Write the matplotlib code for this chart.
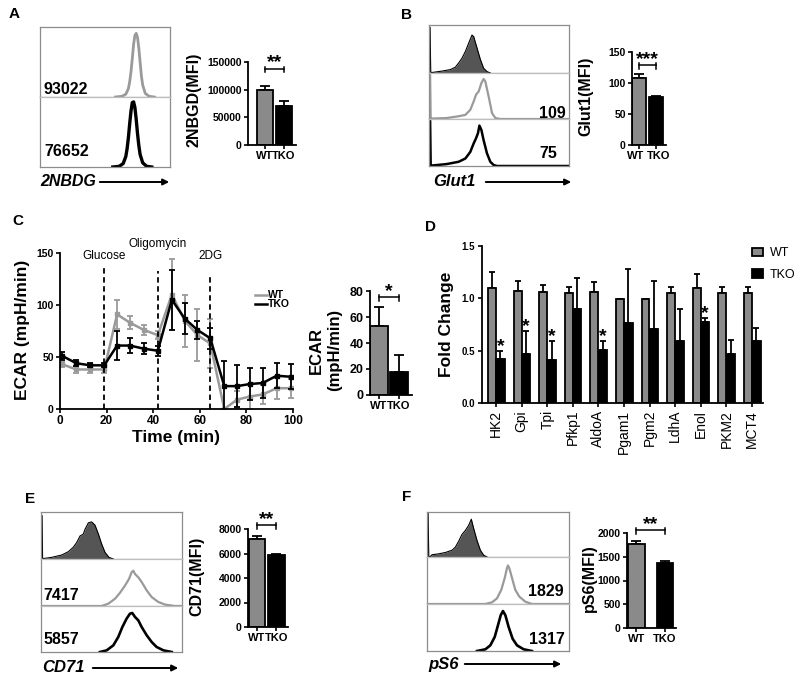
import matplotlib
matplotlib.use('Agg')
import matplotlib.pyplot as plt
from matplotlib.lines import Line2D
from matplotlib.patches import FancyArrowPatch

plt.rcParams['font.family'] = ['Liberation Sans', 'DejaVu Sans']

# ---------------- data ----------------
groups = ['WT', 'TKO']

# Panel A
a_hist_labels = ['93022', '76652']
hA_wt_x = [0.58, 0.63, 0.66, 0.68, 0.69, 0.70, 0.71, 0.72, 0.73, 0.74, 0.75, 0.76, 0.77, 0.78, 0.79, 0.81, 0.84, 0.88]
hA_wt_y = [0, 0.01, 0.04, 0.12, 0.22, 0.36, 0.55, 0.75, 0.88, 0.91, 0.85, 0.70, 0.50, 0.30, 0.17, 0.05, 0.01, 0]
hA_tko_x = [0.56, 0.61, 0.64, 0.66, 0.67, 0.68, 0.69, 0.70, 0.71, 0.72, 0.73, 0.74, 0.75, 0.76, 0.77, 0.79, 0.82, 0.86]
hA_tko_y = [0, 0.01, 0.05, 0.15, 0.26, 0.42, 0.62, 0.80, 0.92, 0.93, 0.85, 0.68, 0.48, 0.31, 0.18, 0.06, 0.01, 0]
a_vals = [100000, 71000]
a_errs = [7000, 9000]

# Panel B
b_hist_labels = ['109', '75']
hB_iso_x = [0.008, 0.012, 0.02, 0.093, 0.152, 0.188, 0.212, 0.236, 0.26, 0.283, 0.307, 0.319, 0.343, 0.367, 0.39, 0.414, 0.438]
hB_iso_y = [0.95, 0.02, 0.01, 0.04, 0.07, 0.12, 0.21, 0.31, 0.45, 0.62, 0.79, 0.76, 0.52, 0.28, 0.10, 0.03, 0]
hB_wt_x = [0.008, 0.012, 0.02, 0.124, 0.212, 0.26, 0.295, 0.319, 0.336, 0.355, 0.374, 0.39, 0.402, 0.426, 0.45, 0.474, 0.51, 1.0]
hB_wt_y = [0.95, 0.02, 0.01, 0.02, 0.06, 0.09, 0.20, 0.38, 0.53, 0.60, 0.78, 0.87, 0.82, 0.49, 0.13, 0.02, 0, 0]
hB_tko_x = [0.008, 0.012, 0.02, 0.124, 0.212, 0.26, 0.295, 0.319, 0.336, 0.35, 0.36, 0.374, 0.39, 0.414, 0.438, 0.462, 0.486, 1.0]
hB_tko_y = [0.95, 0.02, 0.01, 0.04, 0.09, 0.16, 0.30, 0.48, 0.59, 0.70, 0.86, 0.77, 0.55, 0.27, 0.09, 0.02, 0, 0]
b_vals = [108, 77]
b_errs = [6, 2]

# Panel C (Seahorse ECAR)
c_time = [1, 7, 13, 19, 24.5, 30, 36, 42, 48, 53.5, 59, 64.5, 70.5, 76, 81.5, 87, 93, 99]
c_wt = [43, 38, 38, 38, 91, 83, 76, 71, 110, 85, 71, 63, 0, 9, 12, 14, 20, 20]
c_wt_err = [3, 3, 3, 3, 14, 6, 5, 4, 34, 25, 25, 24, 0, 8, 12, 9, 10, 9]
c_tko = [51, 44, 42, 42, 61, 61, 58, 56, 105, 87, 76, 68, 22, 22, 24, 25, 32, 31]
c_tko_err = [4, 3, 2, 2, 14, 7, 5, 5, 29, 15, 9, 10, 24, 20, 15, 14, 12, 12]
c_inject_times = [19, 42, 64.5]
c_inject_names = ['Glucose', 'Oligomycin', '2DG']
c_bar_vals = [53, 18]
c_bar_errs = [15, 13]

# Panel D (qPCR fold change)
d_genes = ['HK2', 'Gpi', 'Tpi', 'Pfkp1', 'AldoA', 'Pgam1', 'Pgm2', 'LdhA', 'Enol', 'PKM2', 'MCT4']
d_wt = [1.10, 1.07, 1.06, 1.05, 1.06, 0.99, 0.99, 1.05, 1.10, 1.05, 1.05]
d_wt_err = [0.15, 0.10, 0.07, 0.06, 0.10, 0.0, 0.0, 0.06, 0.13, 0.06, 0.06]
d_tko = [0.42, 0.47, 0.41, 0.90, 0.51, 0.76, 0.71, 0.59, 0.77, 0.47, 0.59]
d_tko_err = [0.08, 0.22, 0.18, 0.29, 0.08, 0.52, 0.46, 0.31, 0.04, 0.13, 0.13]
d_signif = [True, True, True, False, True, False, False, False, True, False, False]

# Panel E
e_hist_labels = ['7417', '5857']
hE_iso_x = [0.008, 0.011, 0.017, 0.076, 0.147, 0.194, 0.229, 0.253, 0.277, 0.30, 0.312, 0.336, 0.359, 0.383, 0.407, 0.43, 0.454, 0.482, 0.513]
hE_iso_y = [0.92, 0.02, 0.01, 0.035, 0.085, 0.155, 0.25, 0.35, 0.49, 0.53, 0.63, 0.77, 0.79, 0.72, 0.53, 0.32, 0.14, 0.035, 0]
hE_wt_x = [0, 0.43, 0.478, 0.525, 0.56, 0.596, 0.624, 0.643, 0.655, 0.667, 0.69, 0.714, 0.75, 0.785, 0.832, 0.88, 0.95, 1.0]
hE_wt_y = [0, 0, 0.05, 0.155, 0.28, 0.435, 0.575, 0.72, 0.75, 0.68, 0.61, 0.51, 0.33, 0.19, 0.085, 0.03, 0, 0]
hE_tko_x = [0.418, 0.466, 0.513, 0.548, 0.577, 0.607, 0.631, 0.647, 0.667, 0.69, 0.714, 0.75, 0.785, 0.82, 0.868, 0.927]
hE_tko_y = [0, 0.036, 0.145, 0.326, 0.543, 0.725, 0.833, 0.848, 0.761, 0.688, 0.543, 0.362, 0.217, 0.109, 0.036, 0]
e_vals = [7200, 5850]
e_errs = [200, 100]

# Panel F
f_hist_labels = ['1829', '1317']
hF_iso_x = [0.008, 0.012, 0.02, 0.035, 0.082, 0.129, 0.176, 0.20, 0.223, 0.246, 0.27, 0.293, 0.312, 0.329, 0.352, 0.376, 0.399, 0.423]
hF_iso_y = [0.97, 0.02, 0, 0.05, 0.07, 0.10, 0.15, 0.22, 0.35, 0.50, 0.59, 0.70, 0.84, 0.63, 0.37, 0.15, 0.04, 0]
hF_wt_x = [0, 0.411, 0.458, 0.493, 0.523, 0.547, 0.563, 0.570, 0.580, 0.599, 0.622, 0.65, 0.692, 0.739, 1.0]
hF_wt_y = [0, 0, 0.036, 0.12, 0.30, 0.55, 0.76, 0.82, 0.76, 0.55, 0.30, 0.157, 0.05, 0, 0]
hF_tko_x = [0.352, 0.411, 0.446, 0.477, 0.50, 0.519, 0.535, 0.552, 0.575, 0.603, 0.634, 0.681, 0.739]
hF_tko_y = [0, 0.036, 0.12, 0.30, 0.55, 0.76, 0.85, 0.76, 0.51, 0.26, 0.12, 0.036, 0]
f_vals = [1770, 1360]
f_errs = [70, 50]

# ---------------- styling ----------------
WT_LINE = '#9a9a9a'
WT_BAR = '#8a8a8a'
ISO_FILL = '#555555'
BOX_EDGE = '#8c8c8c'

W, H = 800, 677
fig = plt.figure(figsize=(8, 6.77), dpi=100)


def add_ax(l, t, r, b):
    return fig.add_axes([l / W, 1 - b / H, (r - l) / W, (b - t) / H])


def ftext(x, y, s, **kw):
    fig.text(x / W, 1 - y / H, s, **kw)


def arrow(x1, x2, y):
    fig.add_artist(FancyArrowPatch((x1 / W, 1 - y / H), (x2 / W, 1 - y / H),
                                   transform=fig.transFigure, arrowstyle='-|>',
                                   mutation_scale=9, lw=1.4, color='black'))


def hist_rows(l, r, row_edges):
    axs = []
    for i in range(len(row_edges) - 1):
        ax = add_ax(l, row_edges[i], r, row_edges[i + 1])
        ax.set_xlim(0, 1)
        ax.set_ylim(0, 1)
        ax.set_xticks([])
        ax.set_yticks([])
        for sp in ax.spines.values():
            sp.set_color(BOX_EDGE)
            sp.set_linewidth(0.9)
        if i > 0:
            ax.spines['top'].set_color('#bdbdbd')
        axs.append(ax)
    return axs


def bar_panel(l, t, r, b, xlim, vals, errs, ymax, yticks, yticklabels, width,
              stars, bracket_y, tick_fs=7.5, label_shift=0.0):
    ax = add_ax(l, t, r, b)
    pos = [0, 1]
    ax.bar(pos, vals, width=width, color=[WT_BAR, 'black'], edgecolor='black', linewidth=1.3, zorder=2)
    ax.errorbar(pos, vals, yerr=[[0, 0], errs], fmt='none', ecolor='black', elinewidth=1.3,
                capsize=3.5, capthick=1.3, zorder=1)
    ax.set_xlim(*xlim)
    ax.set_ylim(0, ymax)
    ax.set_yticks(yticks)
    ax.set_yticklabels(yticklabels, fontsize=tick_fs, fontweight='bold')
    ax.set_xticks(pos)
    if label_shift:
        ax.set_xticklabels(['', ''])
        for p, g, sgn in zip(pos, groups, [-1, 1]):
            ax.annotate(g, xy=(p, 0), xycoords=('data', 'axes fraction'),
                        xytext=(sgn * label_shift, -4.2), textcoords='offset points',
                        ha='center', va='top', fontsize=8, fontweight='bold')
    else:
        ax.set_xticklabels(groups, fontsize=8, fontweight='bold')
    ax.tick_params(axis='both', length=3, width=1.2, pad=1.5)
    for s in ['top', 'right']:
        ax.spines[s].set_visible(False)
    for s in ['left', 'bottom']:
        ax.spines[s].set_linewidth(1.3)
    d = ymax * 0.04
    ax.plot([0, 1], [bracket_y, bracket_y], color='black', lw=1.1, clip_on=False)
    ax.plot([0, 0], [bracket_y - d, bracket_y + d * 0.5], color='black', lw=1.1, clip_on=False)
    ax.plot([1, 1], [bracket_y - d, bracket_y + d * 0.5], color='black', lw=1.1, clip_on=False)
    ax.text(0.5, bracket_y - ymax * 0.03, stars, ha='center', va='bottom', fontsize=14,
            fontweight='bold', clip_on=False)
    return ax


# ---------------- Panel A ----------------
ftext(14, 14, 'A', fontsize=11, fontweight='bold', ha='center', va='center')
axA = hist_rows(40, 170, [27, 97, 167])
axA[0].plot(hA_wt_x, hA_wt_y, color=WT_LINE, lw=2.0)
axA[1].plot(hA_tko_x, hA_tko_y, color='black', lw=2.4)
ftext(44, 89, a_hist_labels[0], fontsize=11.5, fontweight='bold', va='center')
ftext(44, 151, a_hist_labels[1], fontsize=11.5, fontweight='bold', va='center')
ftext(40, 182, '2NBDG', fontsize=11.5, fontweight='bold', style='italic', va='center')
arrow(97, 172, 182)
bar_panel(248, 62, 296, 145, (-0.89, 1.64), a_vals, a_errs, 150000,
          [0, 50000, 100000, 150000], ['0', '50000', '100000', '150000'], 0.84, '**', 138000)
ftext(194, 100, '2NBGD(MFI)', fontsize=11.5, fontweight='bold', rotation=90, ha='center', va='center')

# ---------------- Panel B ----------------
ftext(407, 15, 'B', fontsize=11, fontweight='bold', ha='center', va='center')
axB = hist_rows(429, 569, [25, 73, 119, 166])
axB[0].fill_between(hB_iso_x, hB_iso_y, color=ISO_FILL, lw=0)
axB[0].plot(hB_iso_x, hB_iso_y, color='black', lw=0.8)
axB[1].plot(hB_wt_x, hB_wt_y, color=WT_LINE, lw=1.6)
axB[2].plot(hB_tko_x, hB_tko_y, color='black', lw=1.8)
ftext(539, 113, b_hist_labels[0], fontsize=11.5, fontweight='bold', va='center')
ftext(539, 154, b_hist_labels[1], fontsize=11.5, fontweight='bold', va='center')
ftext(433, 182, 'Glut1', fontsize=12, fontweight='bold', style='italic', va='center')
arrow(483, 574, 182)
bar_panel(632, 52, 666, 145, (-0.41, 1.59), b_vals, b_errs, 150,
          [0, 50, 100, 150], ['0', '50', '100', '150'], 0.82, '***', 129, label_shift=2.2)
ftext(586, 96, 'Glut1(MFI)', fontsize=11.5, fontweight='bold', rotation=90, ha='center', va='center')

# ---------------- Panel C ----------------
ftext(18, 221, 'C', fontsize=11, fontweight='bold', ha='center', va='center')
axC = add_ax(60, 253, 293, 409)
axC.errorbar(c_time, c_wt, yerr=c_wt_err, color=WT_LINE, lw=1.8, marker='s', ms=2.5,
             elinewidth=1.3, capsize=2.5, capthick=1.3, zorder=2)
axC.errorbar(c_time, c_tko, yerr=c_tko_err, color='black', lw=1.8, marker='s', ms=2.5,
             elinewidth=1.3, capsize=2.5, capthick=1.3, zorder=3)
tops = [137, 133, 128]
for tx, tp in zip(c_inject_times, tops):
    axC.plot([tx, tx], [0, tp], color='black', lw=1.3, ls=(0, (3, 2)), zorder=4)
axC.text(c_inject_times[0], 141, c_inject_names[0], ha='center', va='bottom', fontsize=8.5)
axC.text(c_inject_times[1], 153, c_inject_names[1], ha='center', va='bottom', fontsize=8.5)
axC.text(c_inject_times[2], 141, c_inject_names[2], ha='center', va='bottom', fontsize=8.5)
axC.set_xlim(0, 100)
axC.set_ylim(0, 150)
axC.set_xticks([0, 20, 40, 60, 80, 100])
axC.set_xticklabels(['0', '20', '40', '60', '80', '100'], fontsize=8.5, fontweight='bold')
axC.set_yticks([0, 50, 100, 150])
axC.set_yticklabels(['0', '50', '100', '150'], fontsize=7.5, fontweight='bold')
axC.tick_params(length=3, width=1.2, pad=1.5)
for s in ['top', 'right']:
    axC.spines[s].set_visible(False)
for s in ['left', 'bottom']:
    axC.spines[s].set_linewidth(1.3)
axC.set_xlabel('Time (min)', fontsize=12.5, fontweight='bold', labelpad=2)
ftext(23, 330, 'ECAR (mpH/min)', fontsize=12.5, fontweight='bold', rotation=90, ha='center', va='center')
fig.add_artist(Line2D([255 / W, 267 / W], [1 - 295 / H, 1 - 295 / H], color=WT_LINE, lw=1.8))
fig.add_artist(Line2D([255 / W, 267 / W], [1 - 304 / H, 1 - 304 / H], color='black', lw=1.8))
ftext(268, 295, groups[0], fontsize=7.5, fontweight='bold', va='center')
ftext(268, 304, groups[1], fontsize=7.5, fontweight='bold', va='center')
bar_panel(370, 291, 412, 395, (-0.45, 1.65), c_bar_vals, c_bar_errs, 80,
          [0, 20, 40, 60, 80], ['0', '20', '40', '60', '80'], 0.9, '*', 75.6, tick_fs=9)
ftext(316, 350, 'ECAR', fontsize=12, fontweight='bold', rotation=90, ha='center', va='center')
ftext(335, 350, '(mpH/min)', fontsize=12, fontweight='bold', rotation=90, ha='center', va='center')

# ---------------- Panel D ----------------
ftext(430, 227, 'D', fontsize=11, fontweight='bold', ha='center', va='center')
axD = add_ax(482, 246, 763, 403)
xs = list(range(len(d_genes)))
xw = [x - 0.16 for x in xs]
xk = [x + 0.17 for x in xs]
axD.bar(xw, d_wt, width=0.31, color=WT_BAR, edgecolor='black', lw=1.3, label=groups[0], zorder=2)
axD.bar(xk, d_tko, width=0.33, color='black', edgecolor='black', lw=1.3, label=groups[1], zorder=2)
axD.errorbar(xw, d_wt, yerr=[[0] * len(d_wt), d_wt_err], fmt='none', ecolor='black',
             elinewidth=1.3, capsize=2.5, capthick=1.3, zorder=1)
axD.errorbar(xk, d_tko, yerr=[[0] * len(d_tko), d_tko_err], fmt='none', ecolor='black',
             elinewidth=1.3, capsize=2.5, capthick=1.3, zorder=1)
for x, v, e, sg in zip(xk, d_tko, d_tko_err, d_signif):
    if sg:
        axD.text(x, v + e - 0.04, '*', ha='center', va='bottom', fontsize=14, fontweight='bold')
axD.set_xlim(-0.55, 10.43)
axD.set_ylim(0, 1.5)
axD.set_yticks([0, 0.5, 1.0, 1.5])
axD.set_yticklabels(['0.0', '0.5', '1.0', '1.5'], fontsize=7, fontweight='bold')
axD.set_xticks(xs)
axD.set_xticklabels(d_genes, rotation=90, fontsize=10)
axD.tick_params(length=3, width=1.2, pad=2)
for s in ['top', 'right']:
    axD.spines[s].set_visible(False)
for s in ['left', 'bottom']:
    axD.spines[s].set_linewidth(1.3)
ftext(447, 324, 'Fold Change', fontsize=12.5, fontweight='bold', rotation=90, ha='center', va='center')
axD.legend(loc='upper left', bbox_to_anchor=(746 / W, 1 - 241 / H), bbox_transform=fig.transFigure,
           frameon=False, fontsize=9, handlelength=0.85, handleheight=0.7, handletextpad=0.55,
           labelspacing=0.75, borderpad=0)

# ---------------- Panel E ----------------
ftext(30, 499, 'E', fontsize=11, fontweight='bold', ha='center', va='center')
axE = hist_rows(41, 182, [512, 559, 606, 652])
axE[0].fill_between(hE_iso_x, hE_iso_y, color=ISO_FILL, lw=0)
axE[0].plot(hE_iso_x, hE_iso_y, color='black', lw=0.8)
axE[1].plot(hE_wt_x, hE_wt_y, color=WT_LINE, lw=1.6)
axE[2].plot(hE_tko_x, hE_tko_y, color='black', lw=1.9)
ftext(43, 595, e_hist_labels[0], fontsize=11.5, fontweight='bold', va='center')
ftext(43, 640, e_hist_labels[1], fontsize=11.5, fontweight='bold', va='center')
ftext(42, 668, 'CD71', fontsize=12, fontweight='bold', style='italic', va='center')
arrow(90, 181, 668)
bar_panel(248, 529, 288, 627, (-0.46, 1.59), e_vals, e_errs, 8000,
          [0, 2000, 4000, 6000, 8000], ['0', '2000', '4000', '6000', '8000'], 0.85, '**', 8330)
ftext(197, 576, 'CD71(MFI)', fontsize=11.5, fontweight='bold', rotation=90, ha='center', va='center')

# ---------------- Panel F ----------------
ftext(407, 497, 'F', fontsize=11, fontweight='bold', ha='center', va='center')
axF = hist_rows(427, 569, [512, 557, 604, 651])
axF[0].fill_between(hF_iso_x, hF_iso_y, color=ISO_FILL, lw=0)
axF[0].plot(hF_iso_x, hF_iso_y, color='black', lw=0.8)
axF[1].plot(hF_wt_x, hF_wt_y, color=WT_LINE, lw=1.6)
axF[2].plot(hF_tko_x, hF_tko_y, color='black', lw=1.9)
ftext(528, 592, f_hist_labels[0], fontsize=11.5, fontweight='bold', va='center')
ftext(529, 640, f_hist_labels[1], fontsize=11.5, fontweight='bold', va='center')
ftext(428, 664, 'pS6', fontsize=12, fontweight='bold', style='italic', va='center')
arrow(462, 564, 664)
bar_panel(627, 533, 676, 628, (-0.33, 1.39), f_vals, f_errs, 2000,
          [0, 500, 1000, 1500, 2000], ['0', '500', '1000', '1500', '2000'], 0.58, '**', 2063)
ftext(589, 578, 'pS6(MFI)', fontsize=11.5, fontweight='bold', rotation=90, ha='center', va='center')

fig.savefig('out.png', dpi=100)
